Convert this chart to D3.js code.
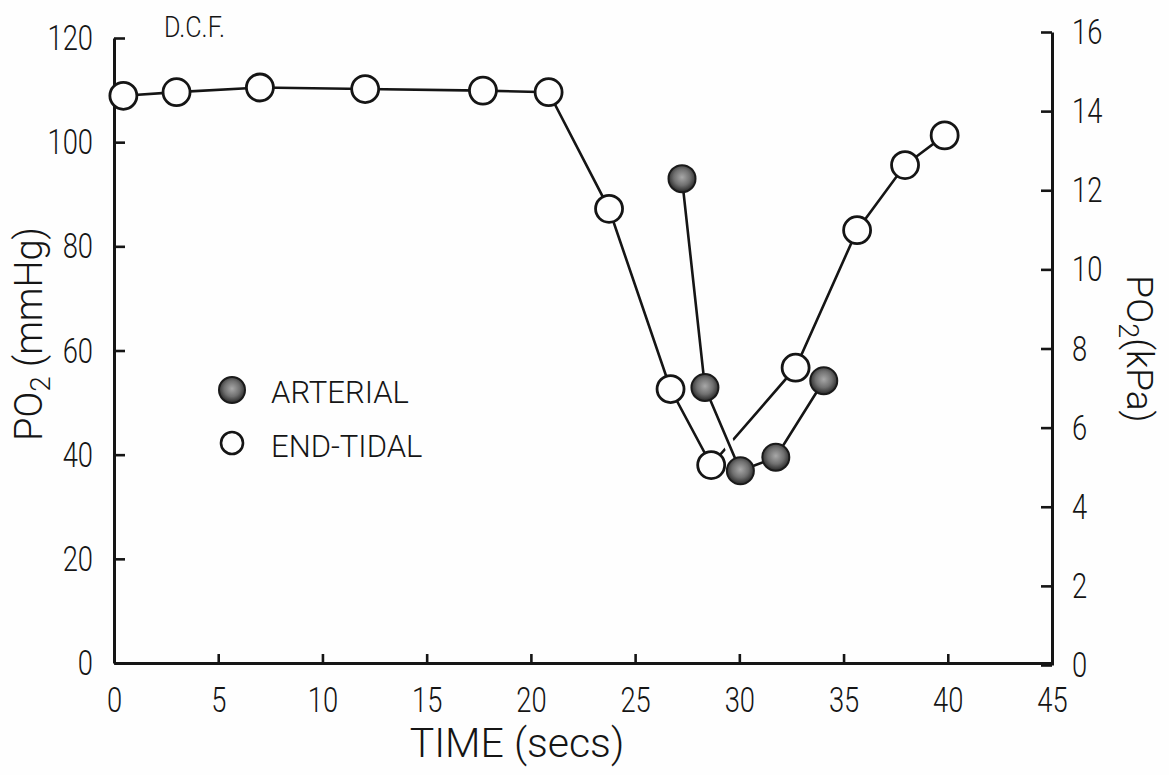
<!DOCTYPE html>
<html>
<head>
<meta charset="utf-8">
<script src="https://cdn.jsdelivr.net/npm/d3@7/dist/d3.min.js"></script>
<style>
  html, body { margin: 0; padding: 0; background: #fefefe; }
  svg { display: block; }
  text { font-family: Roboto, "Liberation Sans", sans-serif; font-weight: 300; fill: #151515; }
</style>
</head>
<body>
<svg id="chart" width="1169" height="775"></svg>
<script>
// Time axis (seconds) and PO2 readings (mmHg)
const endTidalTime = [0.45, 3.0, 7.0, 12.05, 17.7, 20.85, 23.75, 26.7, 28.65, 32.7, 35.65, 37.95, 39.85];
const endTidalPO2  = [108.9, 109.6, 110.5, 110.2, 109.9, 109.6, 87.2, 52.6, 38.0, 56.7, 83.1, 95.6, 101.3];

const arterialTime = [27.25, 28.35, 30.05, 31.75, 34.05];
const arterialPO2  = [93.0, 52.9, 36.9, 39.5, 54.2];

const timeTicks = [0, 5, 10, 15, 20, 25, 30, 35, 40, 45];
const mmHgTicks = [0, 20, 40, 60, 80, 100, 120];
const kPaTicks  = [0, 2, 4, 6, 8, 10, 12, 14, 16];

const svg = d3.select("#chart");
const ink = "#151515";
const fontStack = "Roboto, Liberation Sans, sans-serif";

const x  = d3.scaleLinear().domain([0, 45]).range([114, 1052]);
const yL = d3.scaleLinear().domain([0, 120]).range([663, 38]);
const yR = d3.scaleLinear().domain([0, 16]).range([665, 32]);

const squeeze = 0.76;   // narrow lettering for the numerals
const tickFont = 36;

function styleAxis(g) {
  g.select(".domain").attr("stroke", ink).attr("stroke-width", 3);
  g.selectAll(".tick line").attr("stroke", ink).attr("stroke-width", 2.6);
  g.selectAll(".tick text")
    .attr("font-size", tickFont)
    .attr("fill", ink)
    .attr("font-family", fontStack)
    .attr("font-weight", 300)
    .each(function () {
      const t = d3.select(this);
      const x0 = +t.attr("x") || 0;
      t.attr("x", x0 / squeeze).attr("transform", `scale(${squeeze},1)`);
    });
}

// Bottom axis, ticks pointing inward
svg.append("g")
  .attr("transform", `translate(0,${yL(0)})`)
  .call(d3.axisBottom(x).tickValues(timeTicks).tickSize(-9).tickSizeOuter(0).tickPadding(23))
  .call(styleAxis);

// Left axis, mmHg
svg.append("g")
  .attr("transform", `translate(${x(0)},0)`)
  .call(d3.axisLeft(yL).tickValues(mmHgTicks).tickSize(-11).tickSizeOuter(0).tickPadding(21))
  .call(styleAxis);

// Right axis, kPa
svg.append("g")
  .attr("transform", `translate(${x(45)},0)`)
  .call(d3.axisRight(yR).tickValues(kPaTicks).tickSize(-11).tickSizeOuter(0).tickPadding(20))
  .call(styleAxis);

// Axis titles
svg.append("text")
  .attr("x", 517)
  .attr("y", 757)
  .attr("text-anchor", "middle")
  .attr("font-size", 41)
  .text("TIME (secs)");

const leftTitle = svg.append("text")
  .attr("transform", "translate(42,334) rotate(-90)")
  .attr("text-anchor", "middle")
  .attr("font-size", 38);
leftTitle.append("tspan").text("PO");
leftTitle.append("tspan").attr("font-size", 28).attr("dy", 8).text("2");
leftTitle.append("tspan").attr("dy", -8).text(" (mmHg)");

const rightTitle = svg.append("text")
  .attr("transform", "translate(1127,349) rotate(90)")
  .attr("text-anchor", "middle")
  .attr("font-size", 37);
rightTitle.append("tspan").text("PO");
rightTitle.append("tspan").attr("font-size", 27).attr("dy", 8).text("2");
rightTitle.append("tspan").attr("dy", -8).text("(kPa)");

svg.append("text")
  .attr("x", 164)
  .attr("y", 37)
  .attr("font-size", 30)
  .attr("transform", "translate(164,0) scale(0.84,1) translate(-164,0)")
  .text("D.C.F.");

// Shaded fill for arterial markers
const defs = svg.append("defs");
const grad = defs.append("radialGradient").attr("id", "artFill")
  .attr("cx", "50%").attr("cy", "45%").attr("r", "55%");
grad.append("stop").attr("offset", "0%").attr("stop-color", "#a8a8a8");
grad.append("stop").attr("offset", "55%").attr("stop-color", "#707070");
grad.append("stop").attr("offset", "100%").attr("stop-color", "#262626");

const endTidal = endTidalTime.map((t, i) => ({ t, v: endTidalPO2[i] }));
const arterial = arterialTime.map((t, i) => ({ t, v: arterialPO2[i] }));

const line = d3.line().x(d => x(d.t)).y(d => yL(d.v));

svg.append("path")
  .datum(endTidal)
  .attr("d", line)
  .attr("fill", "none")
  .attr("stroke", ink)
  .attr("stroke-width", 2.6);

// White casing so the arterial trace breaks the line it crosses
svg.append("path")
  .datum(arterial)
  .attr("d", line)
  .attr("fill", "none")
  .attr("stroke", "#fefefe")
  .attr("stroke-width", 11);

svg.append("path")
  .datum(arterial)
  .attr("d", line)
  .attr("fill", "none")
  .attr("stroke", ink)
  .attr("stroke-width", 2.6);

svg.append("g").selectAll("circle")
  .data(endTidal)
  .join("circle")
  .attr("cx", d => x(d.t))
  .attr("cy", d => yL(d.v))
  .attr("r", 13.5)
  .attr("fill", "#fefefe")
  .attr("stroke", ink)
  .attr("stroke-width", 2.8);

svg.append("g").selectAll("circle")
  .data(arterial)
  .join("circle")
  .attr("cx", d => x(d.t))
  .attr("cy", d => yL(d.v))
  .attr("r", 13.5)
  .attr("fill", "url(#artFill)")
  .attr("stroke", "#1a1a1a")
  .attr("stroke-width", 2);

// Legend
const legend = svg.append("g");
legend.append("circle")
  .attr("cx", 232).attr("cy", 390).attr("r", 13)
  .attr("fill", "url(#artFill)").attr("stroke", "#1a1a1a").attr("stroke-width", 2);
legend.append("circle")
  .attr("cx", 232).attr("cy", 443).attr("r", 11)
  .attr("fill", "#fefefe").attr("stroke", ink).attr("stroke-width", 2.6);
legend.append("text").attr("x", 271).attr("y", 403).attr("font-size", 31).text("ARTERIAL");
legend.append("text").attr("x", 271).attr("y", 457).attr("font-size", 31).text("END-TIDAL");
</script>
</body>
</html>
